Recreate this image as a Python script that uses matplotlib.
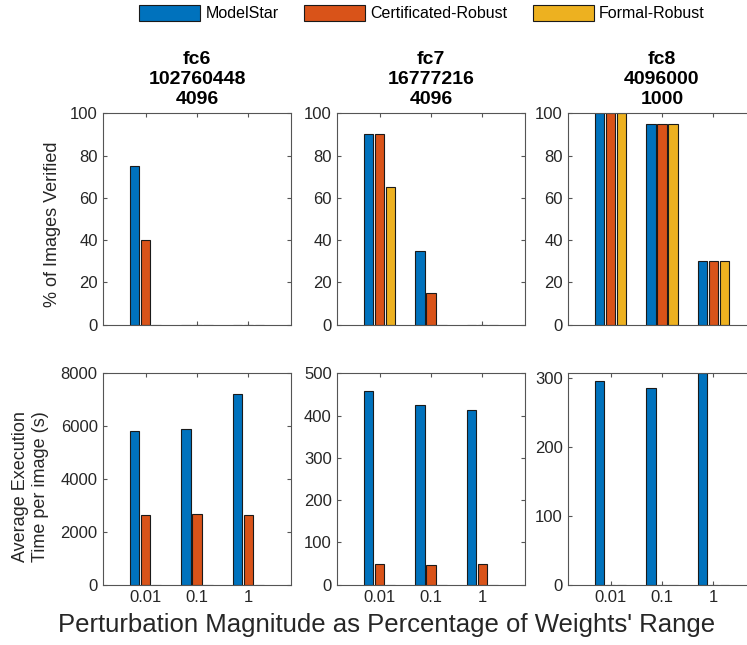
import numpy as np
import matplotlib.pyplot as plt

plt.rcParams['font.family'] = ['Liberation Sans', 'DejaVu Sans']

# ======================
# Data
# ======================
groups = ["0.01", "0.1", "1"]
methods = ["ModelStar", "Certificated-Robust", "Formal-Robust"]
colors = ["#0072BD", "#D95319", "#EDB120"]

layer_titles = ["fc6\n102760448\n4096", "fc7\n16777216\n4096", "fc8\n4096000\n1000"]

# % of images verified, per layer: rows = method, cols = group
verified_fc6 = [[75, 0, 0], [40, 0, 0], [0, 0, 0]]
verified_fc7 = [[90, 35, 0], [90, 15, 0], [65, 0, 0]]
verified_fc8 = [[100, 95, 30], [100, 95, 30], [100, 95, 30]]

# average execution time per image (s)
time_fc6 = [[5830, 5905, 7215], [2635, 2660, 2635], [0, 0, 0]]
time_fc7 = [[458, 424, 412], [49, 46.5, 49], [0, 0, 0]]
time_fc8 = [[296, 286, 307], [0, 0, 0], [0, 0, 0]]

verified = [verified_fc6, verified_fc7, verified_fc8]
times = [time_fc6, time_fc7, time_fc8]
time_ylims = [8000, 500, 307]
time_ticks = [np.arange(0, 8001, 2000), np.arange(0, 501, 100), np.arange(0, 301, 100)]

# ======================
# Layout (figure fractions)
# ======================
W, H = 747, 645
fig = plt.figure(figsize=(W / 100, H / 100), dpi=100)

col_left = [103.3, 337.3, 568.3]
ax_w = 187.4
row_top = [113.3, 373.3]
ax_h = 211.3

BAR_W = 0.18
OFFS = [-0.215, 0.0, 0.215]
x = np.arange(1, 4)
AX_COL = "#262626"


def style_axes(ax):
    for s in ax.spines.values():
        s.set_color("#555555")
        s.set_linewidth(0.8)
    ax.tick_params(direction="in", length=3, width=0.8, color="#555555",
                   top=True, right=True, labelsize=12, labelcolor=AX_COL, pad=4)
    ax.set_xlim(0.17, 3.83)
    ax.set_xticks(x)


handles = []
for c in range(3):
    for r in range(2):
        left = col_left[c] / W
        bottom = 1 - (row_top[r] + ax_h) / H
        ax = fig.add_axes([left, bottom, ax_w / W, ax_h / H])
        data = verified[c] if r == 0 else times[c]
        for m in range(3):
            b = ax.bar(x + OFFS[m], data[m], width=BAR_W, color=colors[m],
                       edgecolor="#1a1a1a", linewidth=0.8, label=methods[m], zorder=2)
            if c == 0 and r == 0:
                handles.append(b)
        style_axes(ax)
        if r == 0:
            ax.set_ylim(0, 100)
            ax.set_yticks(np.arange(0, 101, 20))
            ax.set_xticklabels([])
            ax.set_title(layer_titles[c], fontsize=14, fontweight="bold",
                         pad=7, linespacing=1.2)
        else:
            ax.set_ylim(0, time_ylims[c])
            ax.set_yticks(time_ticks[c])
            ax.set_xticklabels(groups)
        if c == 0 and r == 0:
            ax.text(-0.271, 0.475, "% of Images Verified", transform=ax.transAxes,
                    rotation=90, ha="center", va="center", fontsize=13, color=AX_COL)
        if c == 0 and r == 1:
            ax.text(-0.39, 0.463, "Average Execution\nTime per image (s)",
                    transform=ax.transAxes, rotation=90, ha="center", va="center",
                    fontsize=13, color=AX_COL, multialignment="center", linespacing=1.25)

fig.text(387 / W, 1 - 625 / H, "Perturbation Magnitude as Percentage of Weights' Range",
         ha="center", va="center", fontsize=18.5, color=AX_COL)

fig.legend(handles, methods, loc="center", bbox_to_anchor=(422 / W, 1 - 13 / H),
           ncol=3, frameon=False, fontsize=11.5, handlelength=3.8, handleheight=1.2,
           handletextpad=0.35, columnspacing=1.6)

fig.savefig("out.png", dpi=100)
